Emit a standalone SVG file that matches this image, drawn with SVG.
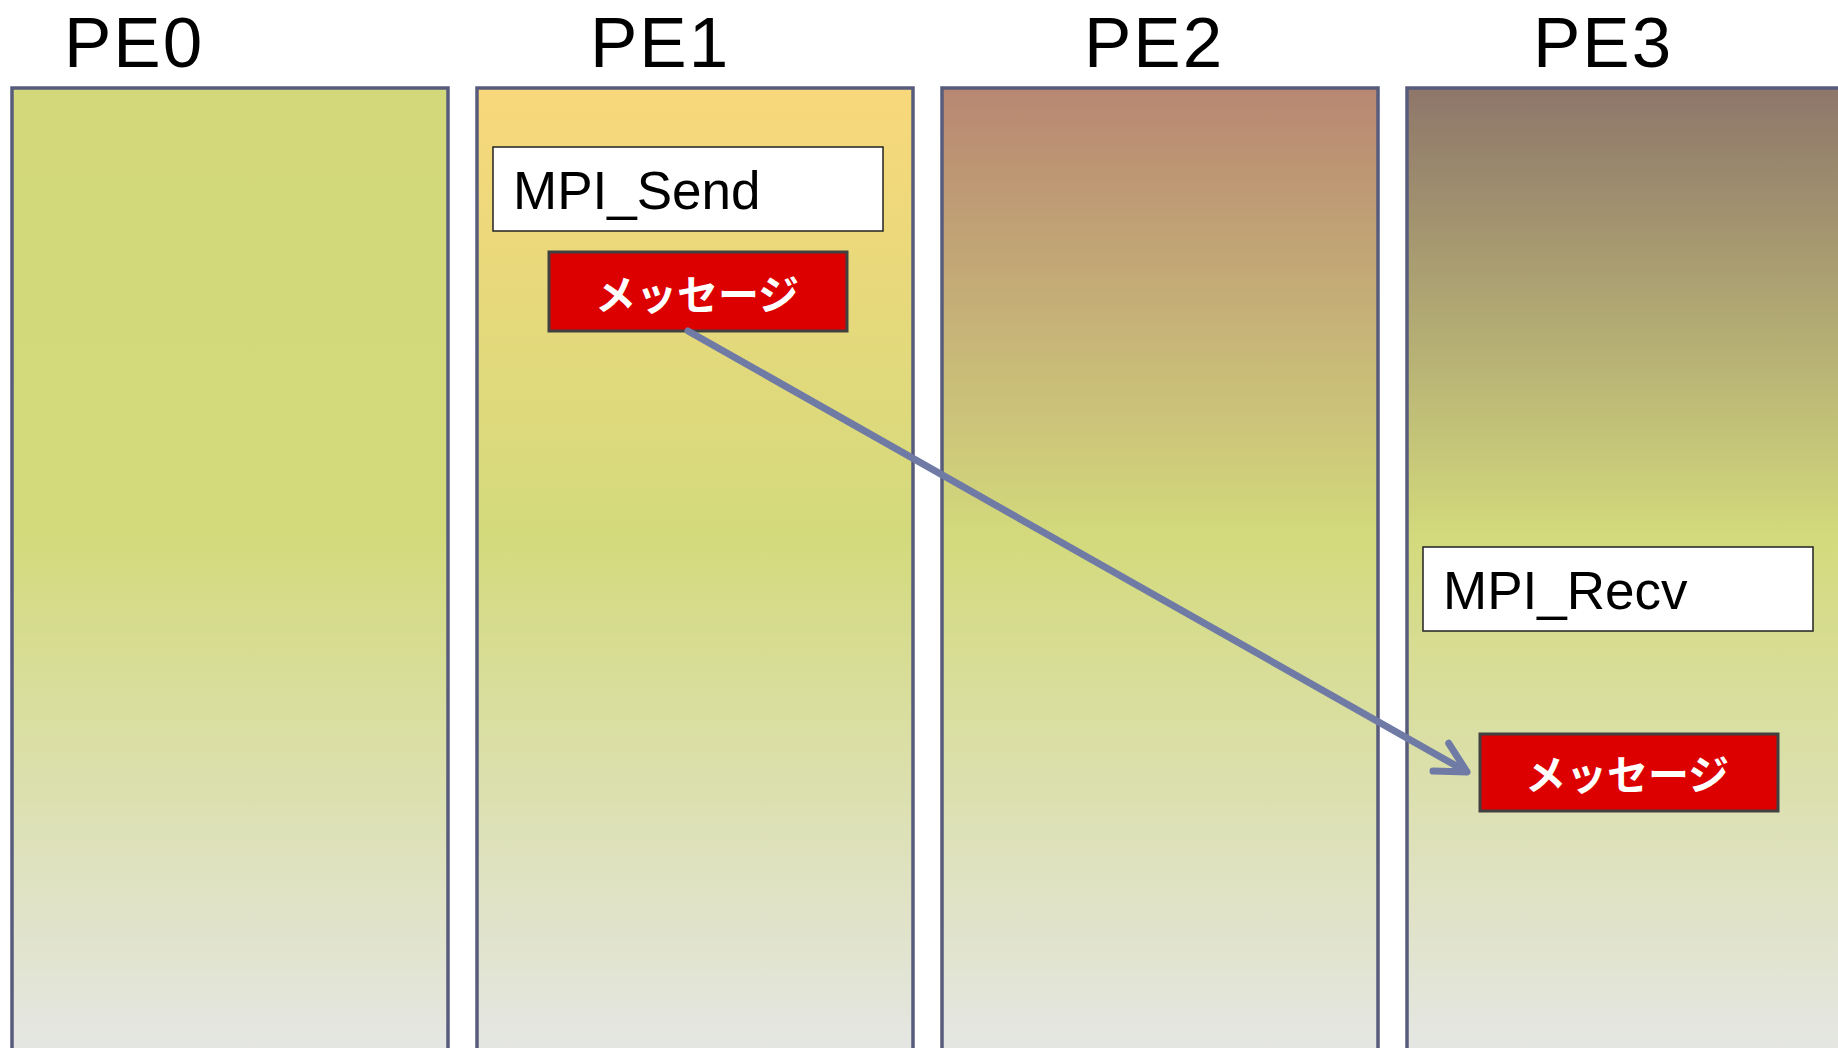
<svg xmlns="http://www.w3.org/2000/svg" width="1838" height="1048" viewBox="0 0 1838 1048">
<style>
.col{stroke:#585c7c;stroke-width:3.5}
.title{font-family:"Liberation Sans",Arial,sans-serif;font-size:71px;letter-spacing:2px;fill:#000}
.fn{fill:#fff;stroke:#222;stroke-width:1.5}
.fnt{font-family:"Liberation Sans",Arial,sans-serif;font-size:53px;fill:#000}
.msg{fill:#dc0000;stroke:#404040;stroke-width:3}
.msgt{font-family:"Noto Sans CJK JP","Noto Sans",sans-serif;font-size:41px;font-weight:bold;fill:#fff;text-anchor:middle}
.conn{fill:none;stroke:#6f7aa5;stroke-width:7;stroke-linecap:round;stroke-linejoin:round}
</style>
<defs>
<linearGradient id="g0" x1="0" y1="0" x2="0" y2="1">
<stop offset="0" stop-color="#d3d97b"/><stop offset="0.45" stop-color="#d3da7c"/><stop offset="1" stop-color="#e6e7eb"/>
</linearGradient>
<linearGradient id="g1" x1="0" y1="0" x2="0" y2="1">
<stop offset="0" stop-color="#f8d87b"/><stop offset="0.45" stop-color="#d3da7c"/><stop offset="1" stop-color="#e6e7eb"/>
</linearGradient>
<linearGradient id="g2" x1="0" y1="0" x2="0" y2="1">
<stop offset="0" stop-color="#b88772"/><stop offset="0.45" stop-color="#d3da7c"/><stop offset="1" stop-color="#e6e7eb"/>
</linearGradient>
<linearGradient id="g3" x1="0" y1="0" x2="0" y2="1">
<stop offset="0" stop-color="#8e766a"/><stop offset="0.45" stop-color="#d3da7c"/><stop offset="1" stop-color="#e6e7eb"/>
</linearGradient>
<marker id="arr" viewBox="0 0 44 40" refX="32" refY="20" markerWidth="44" markerHeight="40" markerUnits="userSpaceOnUse" orient="auto" overflow="visible">
<polyline points="6,4 36,20 6,36" fill="none" stroke="#6f7aa5" stroke-width="7" stroke-linecap="round" stroke-linejoin="round"/>
</marker>
</defs>
<rect width="1838" height="1048" fill="#fff"/>
<g id="pe0">
<rect class="col" x="12" y="88" width="436" height="1000" fill="url(#g0)"/>
<text class="title" x="64" y="67">PE0</text>
</g>
<g id="pe1">
<rect class="col" x="477" y="88" width="436" height="1000" fill="url(#g1)"/>
<text class="title" x="590" y="67">PE1</text>
</g>
<g id="pe2">
<rect class="col" x="942" y="88" width="436" height="1000" fill="url(#g2)"/>
<text class="title" x="1084" y="67">PE2</text>
</g>
<g id="pe3">
<rect class="col" x="1407" y="88" width="440" height="1000" fill="url(#g3)"/>
<text class="title" x="1533" y="67">PE3</text>
</g>
<g id="mpi_send">
<rect class="fn" x="493" y="147" width="390" height="84"/>
<text class="fnt" x="513" y="209">MPI_Send</text>
</g>
<g id="msg_send">
<rect class="msg" x="549" y="252" width="298" height="79"/>
<text class="msgt" x="697" y="310">メッセージ</text>
</g>
<g id="mpi_recv">
<rect class="fn" x="1423" y="547" width="390" height="84"/>
<text class="fnt" x="1443" y="609">MPI_Recv</text>
</g>
<g id="msg_recv">
<rect class="msg" x="1480" y="734" width="298" height="77"/>
<text class="msgt" x="1627" y="790">メッセージ</text>
</g>
<g id="connectors">
<line class="conn" x1="688" y1="331" x2="1463.5" y2="770" marker-end="url(#arr)"/>
</g>
</svg>
